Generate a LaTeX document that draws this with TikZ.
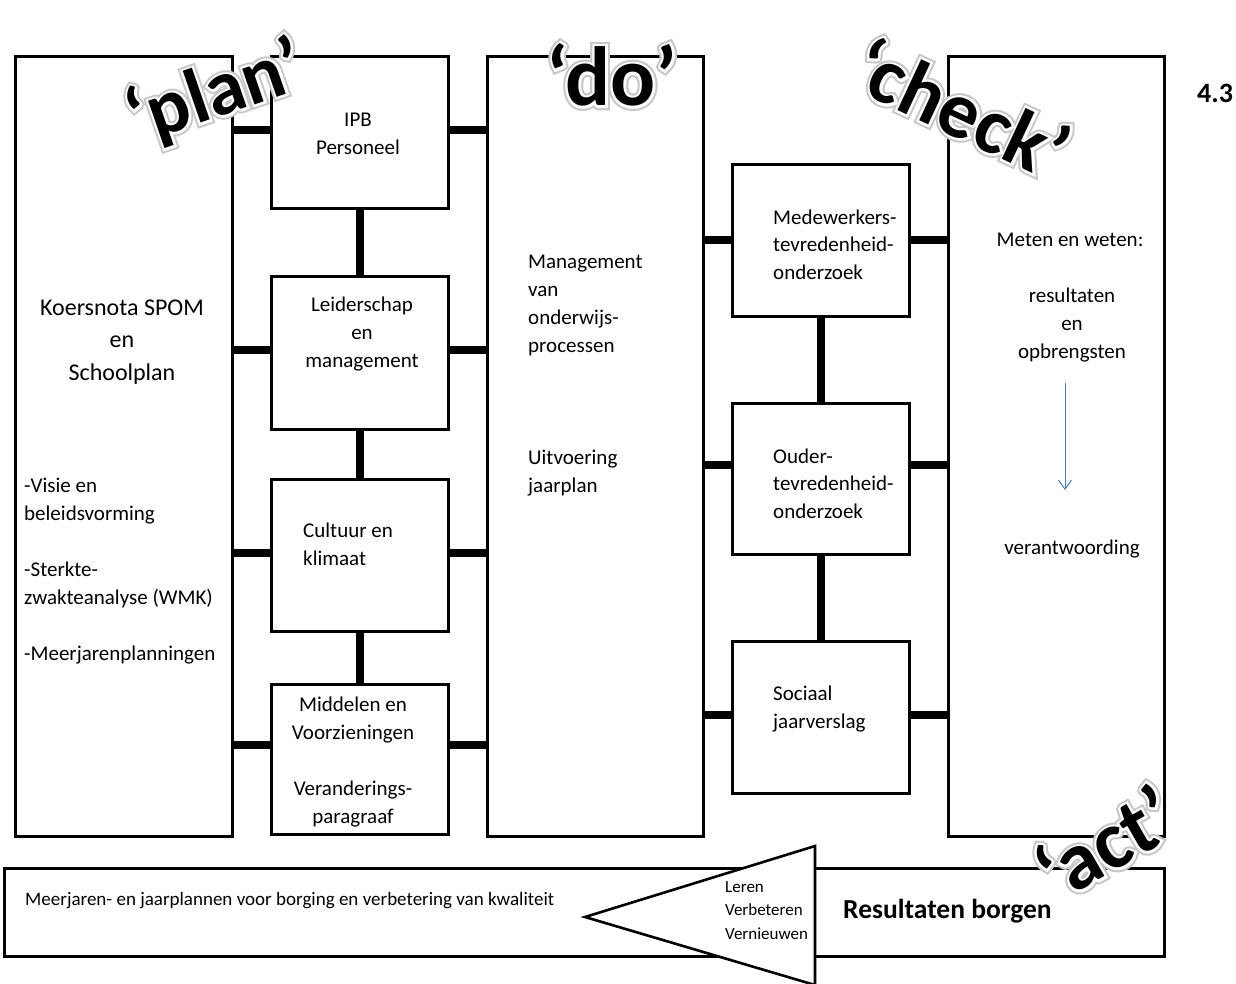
\documentclass[tikz,border=0pt]{standalone}
\usepackage{fontspec}
\setmainfont{Carlito}
\newfontface\glowgray{Carlito Bold}[FakeBold=11]
\newfontface\glowwhite{Carlito Bold}[FakeBold=6]
\newfontface\glowblack{Carlito Bold}
\usetikzlibrary{calc,arrows.meta}
\definecolor{arrowblue}{RGB}{74,126,187}
\newcommand{\glowword}[5]{%
  \node[deco,font=\glowgray\fontsize{#5}{#5}\selectfont,text=black!22,rotate=#3] at (#2) {#4};
  \node[deco,font=\glowwhite\fontsize{#5}{#5}\selectfont,text=white,rotate=#3] at (#2) {#4};
  \node[deco,font=\glowblack\fontsize{#5}{#5}\selectfont,rotate=#3] (#1) at (#2) {#4};}
\begin{document}
\begin{tikzpicture}[x=1pt,y=-1pt,
  box/.style={draw, line width=2.6pt, fill=white, inner sep=0pt, anchor=north west},
  conn/.style={line width=8pt},
  txt/.style={font=\fontsize{21}{28}\selectfont, inner sep=0pt},
  deco/.style={inner sep=0pt}]
\useasboundingbox[fill=white] (0,0) rectangle (1236,983);

% big boxes
\node[box, minimum width=217, minimum height=780] (koers) at (14,55) {};
\node[box, minimum width=216, minimum height=780] (do) at (486,55) {};
\node[box, minimum width=216, minimum height=780] (chk) at (947,55) {};
% plan column
\node[box, minimum width=177, minimum height=152] (ipb) at (270,55) {};
\node[box, minimum width=177, minimum height=153] (leid) at (270,275) {};
\node[box, minimum width=177, minimum height=152] (cult) at (270,478) {};
\node[box, minimum width=177, minimum height=150] (midd) at (270,683) {};
% check column
\node[box, minimum width=177, minimum height=152] (mede) at (731,163) {};
\node[box, minimum width=177, minimum height=151] (oud) at (731,402) {};
\node[box, minimum width=177, minimum height=152] (soc) at (731,640) {};

% vertical connectors
\draw[conn] (ipb.south) -- (leid.north);
\draw[conn] (leid.south) -- (cult.north);
\draw[conn] (cult.south) -- (midd.north);
\draw[conn] (mede.south) -- (oud.north);
\draw[conn] (oud.south) -- (soc.north);
% horizontal connectors plan column
\foreach \n/\yy in {ipb/130,leid/350,cult/553,midd/745}{
  \draw[conn] (koers.east |- 0,\yy) -- (\n.west |- 0,\yy);
  \draw[conn] (\n.east |- 0,\yy) -- (do.west |- 0,\yy);}
% horizontal connectors check column
\foreach \n/\yy in {mede/240,oud/465,soc/715}{
  \draw[conn] (do.east |- 0,\yy) -- (\n.west |- 0,\yy);
  \draw[conn] (\n.east |- 0,\yy) -- (chk.west |- 0,\yy);}

% texts (anchor base = baseline of last line)
\node[txt, font=\fontsize{24}{32.5}\selectfont, align=center, anchor=base] at (122,380) {Koersnota SPOM\\en\\Schoolplan};
\node[txt, align=left, anchor=base west] at (24,660) {-Visie en\\beleidsvorming\\[28pt]-Sterkte-\\zwakteanalyse (WMK)\\[28pt]-Meerjarenplanningen};
\node[txt, align=center, anchor=base] at (358,154) {IPB\\Personeel};
\node[txt, align=center, anchor=base] at (362,367) {Leiderschap\\en\\management};
\node[txt, align=left, anchor=base west] at (303,565) {Cultuur en\\klimaat};
\node[txt, align=center, anchor=base] at (353,823) {Middelen en\\Voorzieningen\\[28pt]Veranderings-\\paragraaf};
\node[txt, align=left, anchor=base west] at (528,492) {Management\\van\\onderwijs-\\processen\\[84pt]Uitvoering\\jaarplan};
\node[txt, font=\fontsize{21}{27.5}\selectfont, align=left, anchor=base west] at (773,279) {Medewerkers-\\tevredenheid-\\onderzoek};
\node[txt, font=\fontsize{21}{27.5}\selectfont, align=left, anchor=base west] at (773,518) {Ouder-\\tevredenheid-\\onderzoek};
\node[txt, font=\fontsize{21}{27.5}\selectfont, align=left, anchor=base west] at (773,728) {Sociaal\\jaarverslag};
\node[txt, anchor=base] at (1070,246) {Meten en weten:};
\node[txt, align=center, anchor=base] at (1072,358) {resultaten\\en\\opbrengsten};
\node[txt, anchor=base] at (1072,554) {verantwoording};
\coordinate (arrS) at (1065,383);
\coordinate (arrE) at (1065,490);
\draw[arrowblue, line width=1pt, -{Straight Barb[length=9pt,width=13pt]}] (arrS) -- (arrE);

\node[inner sep=0pt, font=\fontsize{28}{30}\selectfont\bfseries, anchor=base] (num) at (1215,102) {4.3};

% bottom bar and arrow
\node[box, minimum width=1160, minimum height=88] (bar) at (3,867) {};
\node[txt, font=\fontsize{19}{22}\selectfont, anchor=base west] at (25,905) {Meerjaren- en jaarplannen voor borging en verbetering van kwaliteit};
\draw[line width=2.6pt, fill=white, line join=miter] (585,917) -- (815,846) -- (815,985) -- cycle;
\node[txt, font=\fontsize{17}{23.5}\selectfont, align=left, anchor=base west] at (725,939) {Leren\\Verbeteren\\Vernieuwen};
\node[txt, font=\fontsize{27.5}{30}\selectfont\bfseries, anchor=base west] at (843,918) {Resultaten borgen};

% decorative words
\glowword{wplan}{216,94}{19}{‘plan’}{78}
\glowword{wdo}{612,75}{0}{‘do’}{84}
\glowword{wcheck}{962,108}{-25}{‘check’}{80}
\glowword{wact}{1105,842}{30}{‘act’}{82}
\end{tikzpicture}
\end{document}
